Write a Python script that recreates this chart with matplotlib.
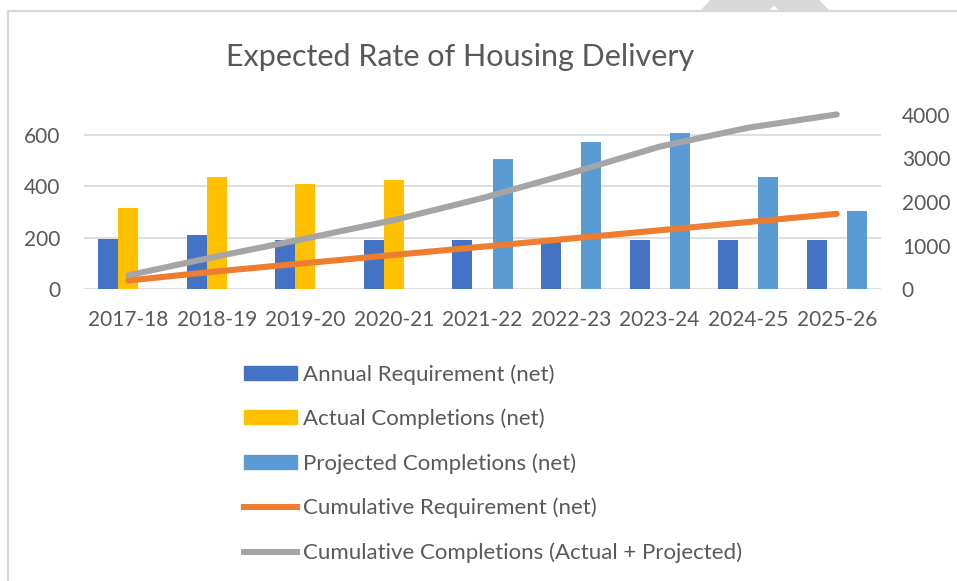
import matplotlib.pyplot as plt
import numpy as np
from matplotlib.patches import Patch, Polygon
from matplotlib.lines import Line2D

plt.rcParams['font.family'] = ['Lato', 'DejaVu Sans']

years = ['2017-18', '2018-19', '2019-20', '2020-21', '2021-22',
         '2022-23', '2023-24', '2024-25', '2025-26']
annual_req = [195, 210, 189, 189, 189, 189, 189, 189, 189]
actual = [315, 435, 409, 426, 0, 0, 0, 0, 0]
projected = [0, 0, 0, 0, 505, 574, 609, 435, 305]
cum_req = np.cumsum(annual_req)
cum_comp = np.cumsum(np.array(actual) + np.array(projected))

c_text = '#595959'
c_grid = '#D9D9D9'

fig = plt.figure(figsize=(9.57, 5.81), dpi=100)
W, H = 957, 581
ax = fig.add_axes([84 / W, 1 - 289 / H, (881 - 84) / W, (289 - 115) / H])
ax2 = ax.twinx()

x = np.arange(len(years))
bw = 0.226
ax.bar(x - bw, annual_req, bw, color='#4472C4', zorder=2)
ax.bar(x, actual, bw, color='#FFC000', zorder=2)
ax.bar(x + bw, projected, bw, color='#5B9BD5', zorder=2)

ax2.plot(x, cum_req, color='#ED7D31', lw=4.4, solid_capstyle='round', clip_on=False)
ax2.plot(x, cum_comp, color='#A5A5A5', lw=4.4, solid_capstyle='round', clip_on=False)

ax.set_xlim(-0.5, len(years) - 0.5)
ax.set_ylim(0, 678)
ax2.set_ylim(0, 4000)
ax.set_yticks([0, 200, 400, 600])
ax2.set_yticks([0, 1000, 2000, 3000, 4000])
ax.set_xticks(x)
ax.set_xticklabels(years)
ax.yaxis.grid(True, color=c_grid, lw=1.2)
ax.set_axisbelow(True)
for a in (ax, ax2):
    for s in a.spines.values():
        s.set_visible(False)
    a.tick_params(length=0, labelsize=15, colors=c_text)
ax.tick_params(axis='y', pad=17)
ax2.tick_params(axis='y', pad=15)
ax.tick_params(axis='x', pad=15)

fig.text(460 / W, 1 - 57 / H, 'Expected Rate of Housing Delivery',
         ha='center', va='center', fontsize=22, color=c_text)

handles = [
    Patch(color='#4472C4', label='Annual Requirement (net)'),
    Patch(color='#FFC000', label='Actual Completions (net)'),
    Patch(color='#5B9BD5', label='Projected Completions (net)'),
    Line2D([], [], color='#ED7D31', lw=4.4, label='Cumulative Requirement (net)'),
    Line2D([], [], color='#A5A5A5', lw=4.4, label='Cumulative Completions (Actual + Projected)'),
]
leg = fig.legend(handles=handles, loc='upper left',
                 bbox_to_anchor=(244 / W, 1 - 364 / H), frameon=False,
                 fontsize=16, labelcolor=c_text, borderpad=0, borderaxespad=0,
                 handlelength=2.4, handleheight=0.6, handletextpad=0.25,
                 labelspacing=1.08)

# chart border and page artefact
fig.add_artist(Line2D([8 / W, 8 / W, 1], [0, 1 - 11 / H, 1 - 11 / H],
                      color=c_grid, lw=1.6, transform=fig.transFigure))
fig.add_artist(Polygon([(702 / W, 1 - 10 / H), (711 / W, 1), (818 / W, 1),
                        (828 / W, 1 - 10 / H), (780 / W, 1 - 10 / H),
                        (774 / W, 1 - 5 / H), (768 / W, 1 - 10 / H)],
                       closed=True, color=c_grid, transform=fig.transFigure))

fig.savefig('out.png', dpi=100)
